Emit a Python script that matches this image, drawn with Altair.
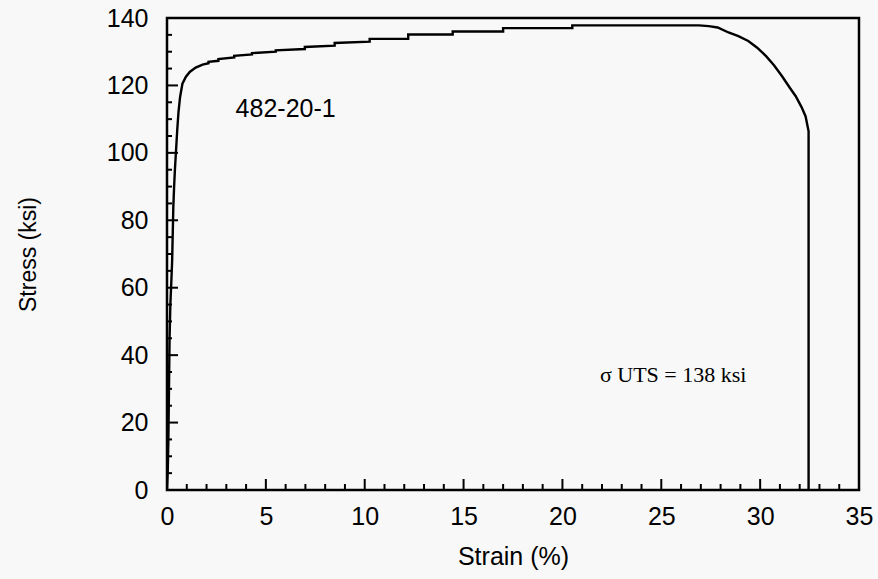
import altair as alt
import pandas as pd

strain = [0.0, 0.04, 0.07, 0.09, 0.11, 0.13, 0.17, 0.22, 0.26, 0.29, 0.32, 0.36, 0.40,
          0.46, 0.52, 0.58, 0.66, 0.78, 0.95, 1.15, 1.45, 1.80, 2.10, 2.10, 2.60, 2.60,
          3.40, 3.40, 4.30, 4.30, 5.50, 5.50, 6.97, 6.97, 8.48, 8.48, 10.25, 10.25,
          12.20, 12.20, 14.45, 14.45, 17.00, 17.00, 20.50, 20.50, 26.90, 27.40, 27.85,
          28.40, 28.90, 29.40, 29.85, 30.30, 30.70, 31.10, 31.50, 31.80, 32.10, 32.30,
          32.45, 32.45]
stress = [0.0, 6.0, 15.0, 25.0, 35.0, 45.0, 55.0, 62.0, 68.0, 76.0, 84.0, 90.0, 95.0,
          101.0, 107.0, 112.0, 116.5, 120.5, 122.5, 124.0, 125.3, 126.2, 126.6, 127.0,
          127.3, 127.8, 128.3, 128.8, 129.2, 129.6, 130.0, 130.4, 130.8, 131.4, 131.8,
          132.6, 133.0, 133.8, 133.8, 135.1, 135.1, 136.0, 136.0, 137.0, 137.0, 137.8,
          137.8, 137.6, 137.2, 135.7, 134.6, 133.2, 131.2, 128.7, 126.0, 122.8, 119.3,
          116.8, 113.5, 110.8, 106.4, 0.0]

x_major_ticks = [5, 10, 15, 20, 25, 30]
x_minor_ticks = [1, 2, 3, 4, 6, 7, 8, 9, 11, 12, 13, 14, 16, 17, 18, 19, 21, 22, 23, 24,
                 26, 27, 28, 29, 31, 32, 33, 34]
y_major_ticks = [20, 40, 60, 80, 100, 120]
y_minor_ticks = [5, 10, 15, 25, 30, 35, 45, 50, 55, 65, 70, 75, 85, 90, 95, 105, 110,
                 115, 125, 130, 135]

specimen_label = "482-20-1"
uts_label = "σ UTS = 138 ksi"
uts_pos = (25.6, 34.0)
specimen_pos = (6.0, 113)

W, H = 692, 472
SANS = "Liberation Sans"
SERIF = "Liberation Serif"

curve_df = pd.DataFrame({"strain": strain, "stress": stress,
                         "idx": list(range(len(strain)))})

xs = alt.Scale(domain=[0, 35], nice=False, zero=False)
ys = alt.Scale(domain=[0, 140], nice=False, zero=False)

x_axis = alt.Axis(values=[0, 5, 10, 15, 20, 25, 30, 35], ticks=False, domain=False,
                  grid=False, labelFontSize=25, labelFont=SANS, labelColor="black",
                  labelPadding=14, title="Strain (%)", titleFont=SANS,
                  titleFontSize=25, titleFontWeight="normal", titleColor="black",
                  titleX=346, titleY=66, titleAlign="center", titleBaseline="middle",
                  labelFlush=False)
y_axis = alt.Axis(values=[0, 20, 40, 60, 80, 100, 120, 140], ticks=False, domain=False,
                  grid=False, labelFontSize=25, labelFont=SANS, labelColor="black",
                  labelPadding=19, title="Stress (ksi)", titleFont=SANS,
                  titleFontSize=23, titleFontWeight="normal", titleColor="black",
                  titleX=-139, titleY=236, titleAlign="center", titleBaseline="middle",
                  titleAngle=-90, labelFlush=False)

curve = alt.Chart(curve_df).mark_line(color="black", strokeWidth=2.4,
                                      clip=True).encode(
    x=alt.X("strain:Q", scale=xs, axis=x_axis),
    y=alt.Y("stress:Q", scale=ys, axis=y_axis),
    order="idx:Q",
)

xmaj = alt.Chart(pd.DataFrame({"t": x_major_ticks})).mark_rule(
    color="black", strokeWidth=2).encode(
    x=alt.X("t:Q", scale=xs), y=alt.value(H), y2=alt.value(H - 11))
xmin = alt.Chart(pd.DataFrame({"t": x_minor_ticks})).mark_rule(
    color="black", strokeWidth=2).encode(
    x=alt.X("t:Q", scale=xs), y=alt.value(H), y2=alt.value(H - 6))
ymaj = alt.Chart(pd.DataFrame({"t": y_major_ticks})).mark_rule(
    color="black", strokeWidth=2).encode(
    y=alt.Y("t:Q", scale=ys), x=alt.value(0), x2=alt.value(11))
ymin = alt.Chart(pd.DataFrame({"t": y_minor_ticks})).mark_rule(
    color="black", strokeWidth=2).encode(
    y=alt.Y("t:Q", scale=ys), x=alt.value(0), x2=alt.value(5))

spec_txt = alt.Chart(pd.DataFrame({"x": [specimen_pos[0]], "y": [specimen_pos[1]],
                                   "t": [specimen_label]})).mark_text(
    font=SANS, fontSize=25, color="black", align="center", baseline="middle").encode(
    x=alt.X("x:Q", scale=xs), y=alt.Y("y:Q", scale=ys), text="t:N")
uts_txt = alt.Chart(pd.DataFrame({"x": [uts_pos[0]], "y": [uts_pos[1]],
                                  "t": [uts_label]})).mark_text(
    font=SERIF, fontSize=22, color="black", align="center", baseline="middle").encode(
    x=alt.X("x:Q", scale=xs), y=alt.Y("y:Q", scale=ys), text="t:N")

chart = alt.layer(curve, xmaj, xmin, ymaj, ymin, spec_txt, uts_txt).properties(
    width=W, height=H,
    autosize=alt.AutoSizeParams(type="none"),
    padding={"left": 167, "top": 18, "right": 19, "bottom": 89},
    background="#f8f8f8",
).configure_view(stroke="black", strokeWidth=2.5, fill="#f8f8f8")

chart.save("out.html", embed_options={"renderer": "svg", "actions": False})
